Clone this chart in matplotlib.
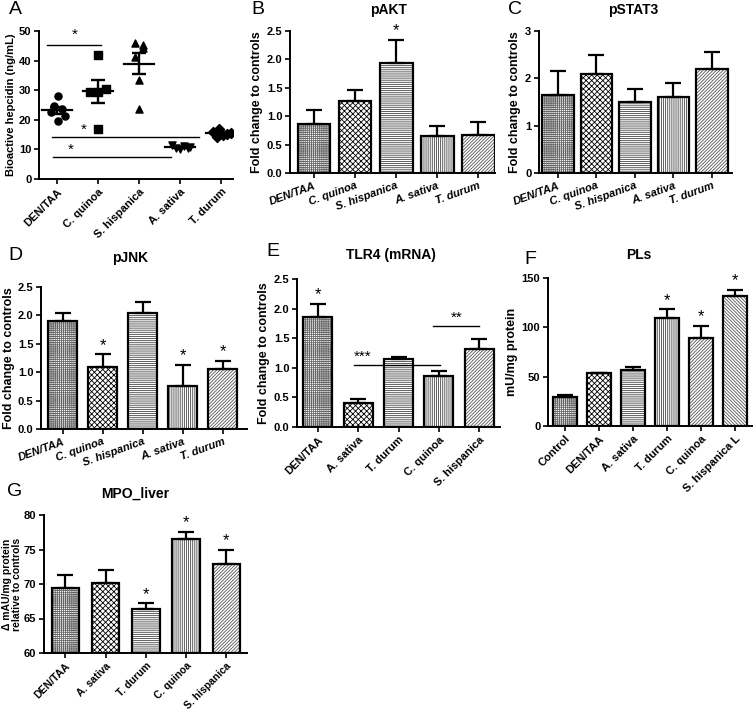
import numpy as np
import matplotlib.pyplot as plt

plt.rcParams['font.family'] = ['Liberation Sans', 'DejaVu Sans']
plt.rcParams['hatch.linewidth'] = 0.6

# --- data ---
a_groups = ['DEN/TAA', 'C. quinoa', 'S. hispanica', 'A. sativa', 'T. durum']
a_points = [
    [28.0, 24.5, 23.5, 22.5, 21.2, 19.5],
    [41.9, 29.5, 29.5, 30.3, 16.8],
    [46.0, 45.3, 44.1, 41.3, 33.4, 23.6],
    [11.4, 10.6, 10.2, 11.0, 10.5, 10.9],
    [16.8, 15.9, 15.3, 14.7, 15.6, 14.3],
]
a_jitter = [
    [0.03, -0.08, 0.11, -0.15, 0.2, 0.03],
    [0.0, -0.2, 0.0, 0.2, 0.0],
    [-0.1, 0.1, 0.1, -0.1, 0.0, 0.0],
    [-0.2, -0.1, 0.0, 0.1, 0.2, 0.25],
    [-0.05, -0.2, 0.15, 0.05, 0.25, -0.1],
]
a_markers = ['o', 's', '^', 'v', 'D']
# (x0, x1, y, star x, star y)
a_sig = [(-0.25, 1.07, 45.3, 0.44, 48.6),
         (-0.13, 3.46, 14.1, 0.66, 16.5),
         (-0.10, 2.79, 7.5, 0.34, 10.0)]

b_groups = ['DEN/TAA', 'C. quinoa', 'S. hispanica', 'A. sativa', 'T. durum']
b_mean = [0.86, 1.26, 1.93, 0.65, 0.67]
b_err = [0.25, 0.20, 0.42, 0.17, 0.23]
b_star = [False, False, True, False, False]

c_groups = ['DEN/TAA', 'C. quinoa', 'S. hispanica', 'A. sativa', 'T. durum']
c_mean = [1.65, 2.09, 1.49, 1.60, 2.20]
c_err = [0.51, 0.40, 0.28, 0.30, 0.35]

d_groups = ['DEN/TAA', 'C. quinoa', 'S. hispanica', 'A. sativa', 'T. durum']
d_mean = [1.91, 1.09, 2.04, 0.75, 1.06]
d_err = [0.13, 0.23, 0.19, 0.38, 0.14]
d_star = [False, True, False, True, True]

e_groups = ['DEN/TAA', 'A. sativa', 'T. durum', 'C. quinoa', 'S. hispanica']
e_mean = [1.86, 0.40, 1.15, 0.86, 1.32]
e_err = [0.22, 0.07, 0.03, 0.08, 0.17]
e_star = [True, False, False, False, False]
e_sig = [(0.90, 3.03, 1.04, '***', 1.12), (2.85, 3.98, 1.70, '**', 3.45)]

f_groups = ['Control', 'DEN/TAA', 'A. sativa', 'T. durum', 'C. quinoa', 'S. hispanica L']
f_mean = [29.5, 53.3, 56.3, 109.3, 89.6, 131.3]
f_err = [1.5, 0.8, 4.0, 9.0, 12.0, 7.0]
f_star = [False, False, False, True, True, True]

g_groups = ['DEN/TAA', 'A. sativa', 'T. durum', 'C. quinoa', 'S. hispanica']
g_mean = [69.4, 70.2, 66.4, 76.5, 72.9]
g_err = [1.9, 1.9, 0.8, 1.1, 2.1]
g_star = [False, False, True, True, True]

hatches = ['++++++++', 'xxxxxx', '--------', '||||||||', '//////////', '\\\\\\\\\\\\\\\\\\\\']
hatch_cols = ['#666666', 'black', '#444444', '#444444', '#555555', '#555555']

W, H = 753, 710
fig = plt.figure(figsize=(W / 100, H / 100), dpi=100)


def px_axes(l, t, r, b):
    return fig.add_axes([l / W, 1 - b / H, (r - l) / W, (b - t) / H])


def style(ax):
    for s in ['top', 'right']:
        ax.spines[s].set_visible(False)
    for s in ['left', 'bottom']:
        ax.spines[s].set_linewidth(1.4)
    ax.tick_params(width=1.2, length=3.5, labelsize=8, pad=2)
    for lab in ax.get_yticklabels():
        lab.set_fontweight('bold')


def bars(ax, means, errs, width, base=0):
    x = np.arange(len(means))
    for i, m in enumerate(means):
        ax.bar(i, m - base, width, bottom=base, color='white', edgecolor=hatch_cols[i],
               hatch=hatches[i], linewidth=0, zorder=1)
        ax.bar(i, m - base, width, bottom=base, color='none', edgecolor='black',
               linewidth=1.6, zorder=2)
    ax.errorbar(x, means, yerr=[np.zeros(len(errs)), errs], fmt='none', ecolor='black',
                elinewidth=1.6, capsize=6, capthick=1.6, zorder=3)


def stars(ax, means, errs, flags):
    for i, (m, e, f) in enumerate(zip(means, errs, flags)):
        if f:
            ax.annotate('*', (i, m + e), xytext=(0, 1), textcoords='offset points',
                        ha='center', va='bottom', fontsize=12)


def xlabels(ax, labels, rot, italic=False, size=8):
    ax.set_xticks(range(len(labels)))
    ax.set_xticklabels(labels, rotation=rot, ha='right', rotation_mode='anchor',
                       fontweight='bold', fontstyle='italic' if italic else 'normal',
                       fontsize=size)


def label(x, y, s, size=10, weight='bold'):
    fig.text(x / W, 1 - y / H, s, ha='center', va='center', fontsize=size, fontweight=weight)


# --- A ---
ax = px_axes(39, 31, 233, 179)
for i, pts in enumerate(a_points):
    pts = np.array(pts)
    ax.scatter(i + np.array(a_jitter[i]), pts, marker=a_markers[i], s=26, color='black', zorder=3)
    m = pts.mean()
    sem = pts.std(ddof=1) / np.sqrt(len(pts))
    ax.plot([i - 0.36, i + 0.36], [m, m], color='black', lw=1.6)
    ax.errorbar(i, m, yerr=sem, fmt='none', ecolor='black', elinewidth=1.7, capsize=5, capthick=1.7)
for x0, x1, y, sx, sy in a_sig:
    ax.plot([x0, x1], [y, y], color='black', lw=1)
    ax.text(sx, sy, '*', ha='center', va='center', fontsize=11)
ax.set_xlim(-0.44, 4.29)
ax.set_ylim(0, 50)
ax.set_yticks([0, 10, 20, 30, 40, 50])
ax.set_ylabel('Bioactive hepcidin (ng/mL)', fontweight='bold', fontsize=8, labelpad=2)
style(ax)
xlabels(ax, a_groups, 45)

# --- B ---
ax = px_axes(290, 31, 495, 173)
bars(ax, b_mean, b_err, 0.8)
stars(ax, b_mean, b_err, b_star)
ax.set_xlim(-0.585, 4.41)
ax.set_ylim(0, 2.5)
ax.set_yticks(np.arange(0, 2.6, 0.5))
ax.set_yticklabels(['0.0', '0.5', '1.0', '1.5', '2.0', '2.5'])
ax.set_ylabel('Fold change to controls', fontweight='bold', fontsize=9, labelpad=3)
style(ax)
xlabels(ax, b_groups, 20, italic=True)

# --- C ---
ax = px_axes(539, 31, 732, 173)
bars(ax, c_mean, c_err, 0.82)
ax.set_xlim(-0.49, 4.52)
ax.set_ylim(0, 3)
ax.set_yticks([0, 1, 2, 3])
ax.set_ylabel('Fold change to controls', fontweight='bold', fontsize=9, labelpad=3)
style(ax)
xlabels(ax, c_groups, 20, italic=True)

# --- D ---
ax = px_axes(41, 287, 247, 429)
bars(ax, d_mean, d_err, 0.73)
stars(ax, d_mean, d_err, d_star)
ax.set_xlim(-0.54, 4.61)
ax.set_ylim(0, 2.5)
ax.set_yticks(np.arange(0, 2.6, 0.5))
ax.set_yticklabels(['0.0', '0.5', '1.0', '1.5', '2.0', '2.5'])
ax.set_ylabel('Fold change to controls', fontweight='bold', fontsize=9, labelpad=2)
style(ax)
xlabels(ax, d_groups, 20, italic=True)

# --- E ---
ax = px_axes(297, 279, 500, 427)
bars(ax, e_mean, e_err, 0.72)
stars(ax, e_mean, e_err, e_star)
for x0, x1, y, s, sx in e_sig:
    ax.plot([x0, x1], [y, y], color='black', lw=1)
    ax.text(sx, y + 0.03, s, ha='center', va='bottom', fontsize=11)
ax.set_xlim(-0.51, 4.51)
ax.set_ylim(0, 2.5)
ax.set_yticks(np.arange(0, 2.6, 0.5))
ax.set_yticklabels(['0.0', '0.5', '1.0', '1.5', '2.0', '2.5'])
ax.set_ylabel('Fold change to controls', fontweight='bold', fontsize=9, labelpad=3)
style(ax)
xlabels(ax, e_groups, 45)

# --- F ---
ax = px_axes(548, 278, 752, 426)
bars(ax, f_mean, f_err, 0.7)
stars(ax, f_mean, f_err, f_star)
ax.set_xlim(-0.51, 5.49)
ax.set_ylim(0, 150)
ax.set_yticks([0, 50, 100, 150])
ax.set_ylabel('mU/mg protein', fontweight='bold', fontsize=9, labelpad=3)
style(ax)
xlabels(ax, f_groups, 45)

# --- G ---
ax = px_axes(44, 515, 247, 653)
bars(ax, g_mean, g_err, 0.68, base=60)
stars(ax, g_mean, g_err, g_star)
ax.set_xlim(-0.53, 4.51)
ax.set_ylim(60, 80)
ax.set_yticks([60, 65, 70, 75, 80])
ax.set_ylabel('\u0394 mAU/mg protein\nrelative to controls', fontweight='bold', fontsize=7.5,
              labelpad=1, linespacing=1.0)
style(ax)
xlabels(ax, g_groups, 45, size=7.5)

# titles and panel letters
label(388, 10, 'pAKT')
label(633, 10, 'pSTAT3')
label(130, 258, 'pJNK')
label(391, 255, 'TLR4 (mRNA)')
label(639, 255, 'PLs')
label(135, 494, 'MPO_liver')
for s, x, y in [('A', 15, 9), ('B', 258, 10), ('C', 515, 10), ('D', 15, 255),
                ('E', 273, 252), ('F', 530, 260), ('G', 15, 492)]:
    label(x, y, s, size=14, weight='normal')

fig.savefig('out.png', dpi=100)
